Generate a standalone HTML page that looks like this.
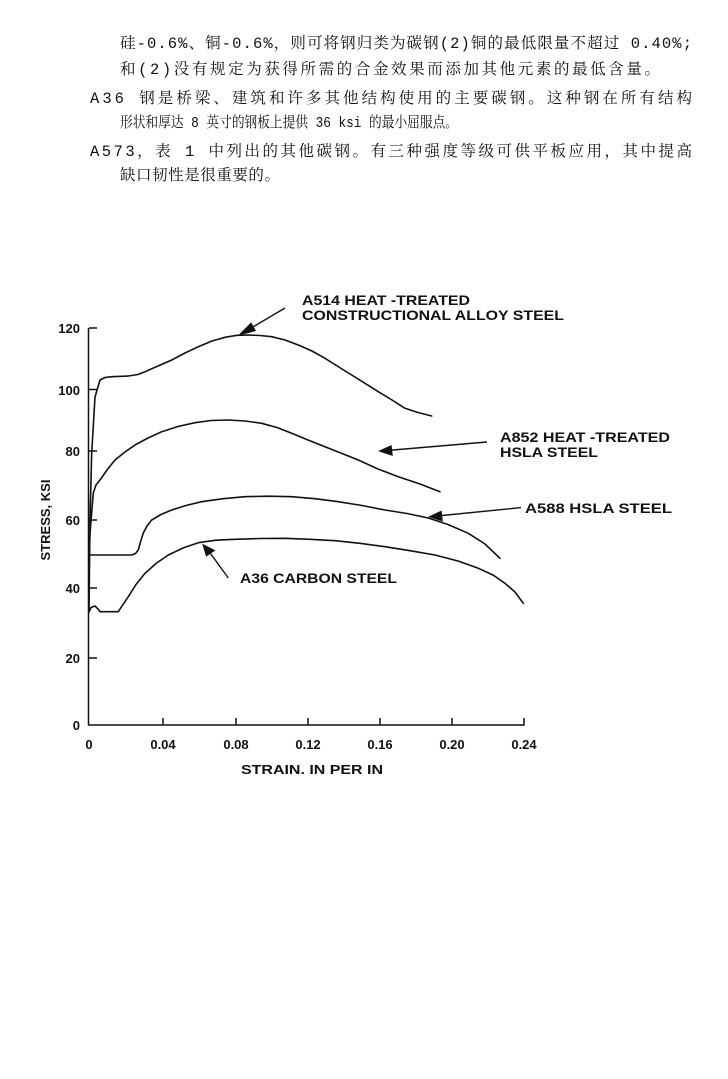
<!DOCTYPE html>
<html><head><meta charset="utf-8"><style>
html,body{margin:0;padding:0;background:#fff;}
svg{display:block}
.t{font-family:"Liberation Mono","Noto Serif CJK SC",serif;font-size:15.5px;fill:#111}
.l{font-family:"Liberation Sans",Arial,sans-serif;font-size:14px;font-weight:bold;fill:#111}
.k{font-family:"Liberation Sans",Arial,sans-serif;font-size:13px;fill:#111}
.c{fill:none;stroke:#111;stroke-width:1.6;stroke-linejoin:round;stroke-linecap:round}
</style></head><body>
<svg width="728" height="1079" viewBox="0 0 728 1079" xmlns="http://www.w3.org/2000/svg">
<rect width="728" height="1079" fill="#fff"/>
<text class="t" x="120" y="48" textLength="572" lengthAdjust="spacing">硅-0.6%、铜-0.6%，则可将钢归类为碳钢(2)铜的最低限量不超过 0.40%;</text>
<text class="t" x="120" y="74" textLength="540" lengthAdjust="spacing">和(2)没有规定为获得所需的合金效果而添加其他元素的最低含量。</text>
<text class="t" x="90" y="103" textLength="602" lengthAdjust="spacing">A36 钢是桥梁、建筑和许多其他结构使用的主要碳钢。这种钢在所有结构</text>
<text class="t" style="font-size:15px" x="120" y="127" textLength="338" lengthAdjust="spacingAndGlyphs">形状和厚达 8 英寸的钢板上提供 36 ksi 的最小屈服点。</text>
<text class="t" x="90" y="156" textLength="602" lengthAdjust="spacing">A573，表 1 中列出的其他碳钢。有三种强度等级可供平板应用，其中提高</text>
<text class="t" x="120" y="180" textLength="160" lengthAdjust="spacing">缺口韧性是很重要的。</text>

<!-- axes -->
<path d="M88.5,328 V725 H524 V718" fill="none" stroke="#111" stroke-width="1.5"/>
<g stroke="#111" stroke-width="1.5">
<line x1="89" y1="328" x2="97" y2="328"/><line x1="89" y1="389.5" x2="97" y2="389.5"/>
<line x1="89" y1="451" x2="97" y2="451"/><line x1="89" y1="520" x2="97" y2="520"/>
<line x1="89" y1="588" x2="97" y2="588"/><line x1="89" y1="658" x2="97" y2="658"/>
<line x1="163" y1="725" x2="163" y2="718"/><line x1="236" y1="725" x2="236" y2="718"/>
<line x1="308" y1="725" x2="308" y2="718"/><line x1="380" y1="725" x2="380" y2="718"/>
<line x1="452" y1="725" x2="452" y2="718"/>
</g>
<g class="k" text-anchor="end" font-weight="bold">
<text x="80" y="333">120</text><text x="80" y="395">100</text><text x="80" y="456">80</text>
<text x="80" y="525">60</text><text x="80" y="593">40</text><text x="80" y="663">20</text><text x="80" y="730">0</text>
</g>
<g class="k" text-anchor="middle" font-weight="bold">
<text x="89" y="749">0</text><text x="163" y="749">0.04</text><text x="236" y="749">0.08</text>
<text x="308" y="749">0.12</text><text x="380" y="749">0.16</text><text x="452" y="749">0.20</text><text x="524" y="749">0.24</text>
</g>
<text class="k" font-weight="bold" x="241" y="774" textLength="142" lengthAdjust="spacingAndGlyphs">STRAIN. IN PER IN</text>
<text class="k" font-weight="bold" transform="translate(50,520) rotate(-90)" text-anchor="middle">STRESS, KSI</text>

<!-- curves -->
<path class="c" d="M89,610 L90,520 91.7,453 95,397 100,380 105,377.5 111.7,376.7 128.3,376 138,374.5 145,371.7 158,366 171.7,360 185,353 198.3,346.7 212,341 225,337.3 237,335.3 248.3,335 260,335.5 271.7,336.7 285,340 298.3,345 312,351 325,358.3 338,366.5 351.7,375 365,383.3 378.3,391.7 392,400 405,408.3 418,412.5 431.7,416"/>
<path class="c" d="M89,560 L90,533 93.3,493 96,485 100,480 107,470 115,460 125,452 135,445 148,438 161.7,431.7 178,426.5 195,422.7 211,420.5 228.3,420 245,421 261.7,423.3 277,427.5 291.7,433.3 308,440 325,446.7 342,453.5 358.3,460 378,469 398.3,476.7 420,484 440,491.7"/>
<path class="c" d="M89,555 L131.7,555 135.5,553.5 138.3,550 140.5,542 143.3,533 147,526 151.7,520 161,514.5 171.7,510 186,505.5 201.7,501.7 223,498.7 245,496.7 268,496.2 291.7,496.7 315,498.7 338.3,501.7 362,505.5 385,510 407,513.5 428.3,518 448,524.5 468.3,533.3 485,544 500,558.3"/>
<path class="c" d="M89,612 L91,607.5 95,606 98,609 100,611.7 118.3,611.7 122,606 128.3,596.7 136,584.5 145,573.3 156,563.5 168.3,555 183,548 198.3,542.7 216,540.2 235,539.3 260,538.5 285,538.3 310,539.3 335,540.7 360,543.3 385,546.7 410,550.7 435,555 458,561 478.3,568.3 493,575 505,583.3 515,592 523.3,603.3"/>

<!-- arrows -->
<g stroke="#111" stroke-width="1.4" fill="#111">
<line x1="285" y1="308" x2="247" y2="330.5"/><polygon points="240,334.5 251,323.5 255,330.5"/>
<line x1="487" y1="442" x2="387" y2="450.5"/><polygon points="380,451 391,446 392,455"/>
<line x1="521" y1="507.6" x2="437" y2="516"/><polygon points="430,516.7 441,511.5 442,520.5"/>
<line x1="228.3" y1="578" x2="208" y2="550"/><polygon points="203.3,545 214,550.5 206.5,555.5"/>
</g>
<g class="l">
<text x="302" y="305" textLength="168" lengthAdjust="spacingAndGlyphs">A514 HEAT -TREATED</text>
<text x="302" y="320" textLength="262" lengthAdjust="spacingAndGlyphs">CONSTRUCTIONAL ALLOY STEEL</text>
<text x="500" y="442" textLength="170" lengthAdjust="spacingAndGlyphs">A852 HEAT -TREATED</text>
<text x="500" y="457" textLength="98" lengthAdjust="spacingAndGlyphs">HSLA STEEL</text>
<text x="525" y="513" textLength="147" lengthAdjust="spacingAndGlyphs">A588 HSLA STEEL</text>
<text x="240" y="583" textLength="157" lengthAdjust="spacingAndGlyphs">A36 CARBON STEEL</text>
</g>
</svg>
</body></html>
